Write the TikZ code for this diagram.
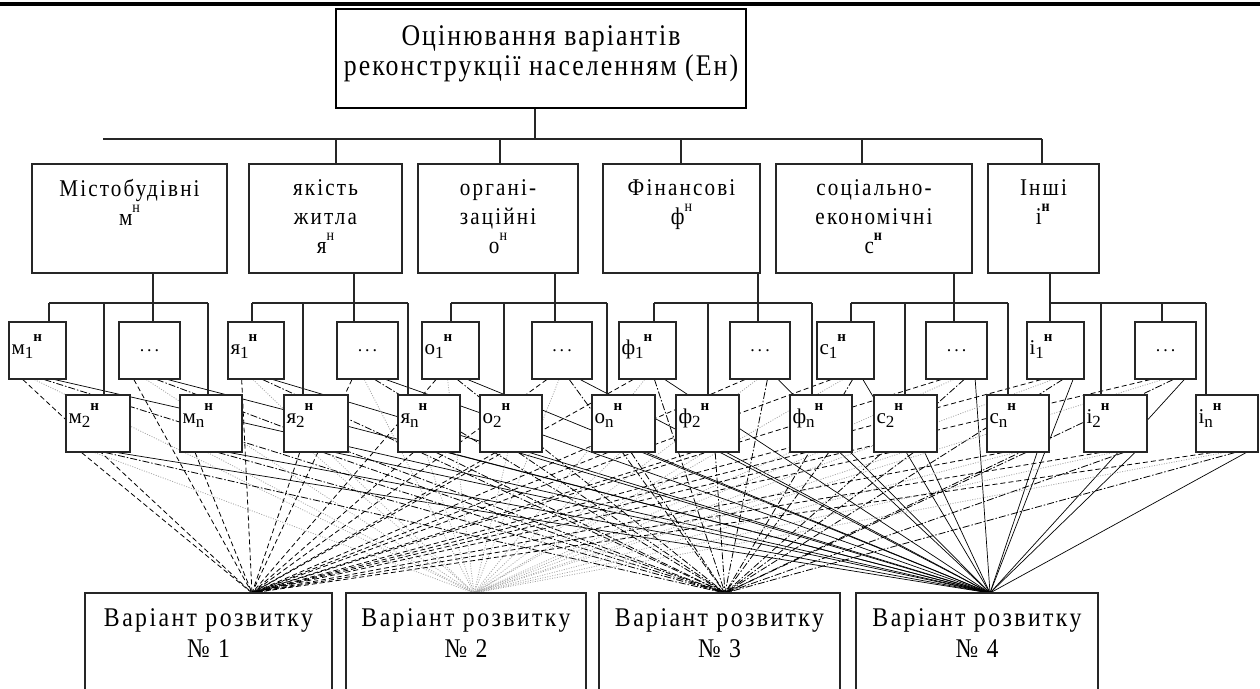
\documentclass[tikz,border=0pt]{standalone}
\usepackage{fontspec}
\setmainfont{Liberation Serif}
\newfontfamily\lsf[LetterSpace=9,FakeStretch=0.88]{Liberation Serif}
\newfontfamily\lsftop[LetterSpace=7,FakeStretch=0.86]{Liberation Serif}
\usetikzlibrary{fit,calc}
\pgfdeclarelayer{bg}
\pgfsetlayers{bg,main}
\newcommand\ftop{\lsftop\fontsize{30}{30}\selectfont}
\newcommand\fcat{\lsf\fontsize{24}{29}\selectfont}
\newcommand\fvar{\lsf\fontsize{27}{31}\selectfont}
\newcommand\fsm{\fontsize{21}{21}\selectfont}
\newcommand\lab[3]{#1\raisebox{-0.22em}{\fontsize{17}{17}\selectfont #2}\raisebox{0.6em}{\fontsize{15}{15}\selectfont\bfseries #3}}
\newcommand\csup[1]{\raisebox{0.55em}{\fontsize{16}{16}\selectfont #1}}
\tikzset{
  bx/.style={draw=black!85, line width=1.3pt, fill=white, inner sep=0pt},
  topbx/.style={draw=black, line width=2.8pt, fill=white, inner sep=0pt},
  hl/.style={line width=1.2pt, black!85},
  txt/.style={inner sep=0pt, align=center},
  smtxt/.style={inner sep=0pt, anchor=base west, font=\fsm},
  va/.style={line width=0.8pt, dash pattern=on 5pt off 3pt},
  vb/.style={line width=0.8pt, gray!70, dash pattern=on 1pt off 1.5pt},
  vc/.style={line width=0.8pt, dash pattern=on 7pt off 2pt on 1.5pt off 2pt},
  vd/.style={line width=0.7pt},
}
\newcommand\mkbox[5]{\node[bx, fit={(#2,#3) (#4,#5)}] (#1) {};}
\begin{document}
\begin{tikzpicture}[x=1pt,y=-1pt]
\useasboundingbox (0,0) rectangle (1260,688);
% top rule
\fill (0,1.5) rectangle (1260,6);
% top box
\node[topbx, fit={(336,9) (746,108)}] (top) {};
\node[txt, anchor=north, font=\ftop] (toptxt) at ([yshift=-18pt]top.north) {Оцінювання варіантів\\реконструкції населенням (Ен)};
% category boxes
\mkbox{catm}{32}{164}{227}{273}
\mkbox{caty}{249}{164}{402}{273}
\mkbox{cato}{418}{164}{578}{273}
\mkbox{catf}{603}{164}{760}{273}
\mkbox{catc}{776}{164}{972}{273}
\mkbox{cati}{988}{164}{1099}{273}
\node[txt, anchor=north, font=\fcat] (catmt) at ([yshift=-16pt]catm.north) {Містобудівні\\м\csup{н}};
\node[txt, anchor=north, font=\fcat] (catyt) at ([yshift=-16pt]caty.north) {якість\\житла\\я\csup{н}};
\node[txt, anchor=north, font=\fcat] (catot) at ([yshift=-16pt]cato.north) {органі-\\заційні\\о\csup{н}};
\node[txt, anchor=north, font=\fcat] (catft) at ([yshift=-16pt]catf.north) {Фінансові\\ф\csup{н}};
\node[txt, anchor=north, font=\fcat] (catct) at ([yshift=-16pt]catc.north) {соціально-\\економічні\\с\csup{\textbf{н}}};
\node[txt, anchor=north, font=\fcat] (catit) at ([yshift=-16pt]cati.north) {Інші\\і\csup{\textbf{н}}};
% small boxes row 1
\mkbox{sm1}{9}{322}{66}{379}
\mkbox{smd}{119}{322}{180}{379}
\mkbox{sy1}{228}{322}{284}{379}
\mkbox{syd}{337}{322}{398}{379}
\mkbox{so1}{422}{322}{479}{379}
\mkbox{sod}{532}{322}{592}{379}
\mkbox{sf1}{619}{322}{676}{379}
\mkbox{sfd}{730}{322}{790}{379}
\mkbox{sc1}{817}{322}{874}{379}
\mkbox{scd}{926}{322}{987}{379}
\mkbox{si1}{1027}{322}{1084}{379}
\mkbox{sid}{1135}{322}{1196}{379}
% small boxes row 2
\mkbox{sm2}{66}{395}{130}{452}
\mkbox{smn}{180}{395}{242}{452}
\mkbox{sy2}{284}{395}{348}{452}
\mkbox{syn}{398}{395}{460}{452}
\mkbox{so2}{480}{395}{542}{452}
\mkbox{son}{592}{395}{655}{452}
\mkbox{sf2}{676}{395}{739}{452}
\mkbox{sfn}{790}{395}{852}{452}
\mkbox{sc2}{874}{395}{937}{452}
\mkbox{scn}{987}{395}{1049}{452}
\mkbox{si2}{1084}{395}{1147}{452}
\mkbox{sin}{1196}{395}{1258}{452}
% small box texts
\node[smtxt] (sm1t) at ([xshift=3pt,yshift=-33pt]sm1.north west) {\lab{м}{1}{н}};
\node[smtxt] (sy1t) at ([xshift=3pt,yshift=-33pt]sy1.north west) {\lab{я}{1}{н}};
\node[smtxt] (so1t) at ([xshift=3pt,yshift=-33pt]so1.north west) {\lab{о}{1}{н}};
\node[smtxt] (sf1t) at ([xshift=3pt,yshift=-33pt]sf1.north west) {\lab{ф}{1}{н}};
\node[smtxt] (sc1t) at ([xshift=3pt,yshift=-33pt]sc1.north west) {\lab{с}{1}{н}};
\node[smtxt] (si1t) at ([xshift=3pt,yshift=-33pt]si1.north west) {\lab{і}{1}{н}};
\node[smtxt] (sm2t) at ([xshift=3pt,yshift=-29pt]sm2.north west) {\lab{м}{2}{н}};
\node[smtxt] (smnt) at ([xshift=3pt,yshift=-29pt]smn.north west) {\lab{м}{n}{н}};
\node[smtxt] (sy2t) at ([xshift=3pt,yshift=-29pt]sy2.north west) {\lab{я}{2}{н}};
\node[smtxt] (synt) at ([xshift=3pt,yshift=-29pt]syn.north west) {\lab{я}{n}{н}};
\node[smtxt] (so2t) at ([xshift=3pt,yshift=-29pt]so2.north west) {\lab{о}{2}{н}};
\node[smtxt] (sont) at ([xshift=3pt,yshift=-29pt]son.north west) {\lab{о}{n}{н}};
\node[smtxt] (sf2t) at ([xshift=3pt,yshift=-29pt]sf2.north west) {\lab{ф}{2}{н}};
\node[smtxt] (sfnt) at ([xshift=3pt,yshift=-29pt]sfn.north west) {\lab{ф}{n}{н}};
\node[smtxt] (sc2t) at ([xshift=3pt,yshift=-29pt]sc2.north west) {\lab{с}{2}{н}};
\node[smtxt] (scnt) at ([xshift=3pt,yshift=-29pt]scn.north west) {\lab{с}{n}{н}};
\node[smtxt] (si2t) at ([xshift=3pt,yshift=-29pt]si2.north west) {\lab{і}{2}{н}};
\node[smtxt] (sint) at ([xshift=3pt,yshift=-29pt]sin.north west) {\lab{і}{n}{н}};
\foreach \d in {smd,syd,sod,sfd,scd,sid}
  \node[inner sep=0pt, font=\fontsize{18}{18}\selectfont] (\d t) at (\d.center) {.\,.\,.};
% variant boxes
\mkbox{var1}{85}{593}{332}{694}
\mkbox{var2}{346}{593}{586}{694}
\mkbox{var3}{599}{593}{840}{694}
\mkbox{var4}{856}{593}{1098}{694}
\node[txt, anchor=north, font=\fvar] (var1t) at ([yshift=-16pt]var1.north) {Варіант розвитку\\№ 1};
\node[txt, anchor=north, font=\fvar] (var2t) at ([yshift=-16pt]var2.north) {Варіант розвитку\\№ 2};
\node[txt, anchor=north, font=\fvar] (var3t) at ([yshift=-16pt]var3.north) {Варіант розвитку\\№ 3};
\node[txt, anchor=north, font=\fvar] (var4t) at ([yshift=-16pt]var4.north) {Варіант розвитку\\№ 4};
\coordinate (t1) at (252,593);
\coordinate (t2) at (474,593);
\coordinate (t3) at (725,593);
\coordinate (t4) at (990,593);
% hierarchy connectors
\coordinate (busL) at (103,139);
\coordinate (busR) at (1042,139);
\draw[hl] (busL) -- (busR);
\draw[hl] ([xshift=-6pt]top.south) -- ([xshift=-6pt]top.south |- busL);
\foreach \n/\x in {caty/336, cato/500, catf/681, catc/862, cati/1042}
  \draw[hl] (\x,0 |- busL) -- (\x,0 |- \n.north);
\newcommand\grp[9]{%
  \draw[hl] (#2,0 |- #1.south) -- (#2,0 |- #3.north);
  \draw[hl] (#4,303) -- (#8,303);
  \draw[hl] (#4,303) -- (#4,0 |- #5.north);
  \draw[hl] (#6,303) -- (#6,0 |- #7.north);
  \draw[hl] (#8,303) -- (#8,0 |- #9.north);
}
\grp{catm}{153}{smd}{49}{sm1}{104}{sm2}{208}{smn}
\grp{caty}{354}{syd}{252}{sy1}{303}{sy2}{408}{syn}
\grp{cato}{555}{sod}{451}{so1}{504}{so2}{607}{son}
\grp{catf}{758}{sfd}{654}{sf1}{708}{sf2}{812}{sfn}
\grp{catc}{954}{scd}{851}{sc1}{905}{sc2}{1008}{scn}
\draw[hl] (1050,0 |- cati.south) -- (1050,0 |- si1.north);
\draw[hl] (1050,303) -- (1206,303);
\draw[hl] (1101,303) -- (1101,0 |- si2.north);
\draw[hl] (1162,303) -- (1162,0 |- sid.north);
\draw[hl] (1206,303) -- (1206,0 |- sin.north);
% evaluation connectors
\begin{pgfonlayer}{bg}
\foreach \s in {sm1,smd,sm2,smn,sy1,syd,sy2,syn,so1,sod,so2,son,sf1,sfd,sf2,sfn,sc1,scd,sc2,scn,si1,sid,si2,sin}{
  \draw[va] ($(\s.south west)!0.25!(\s.south east)$) -- (t1);
  \draw[vb] ($(\s.south west)!0.45!(\s.south east)$) -- (t2);
  \draw[vc] ($(\s.south west)!0.62!(\s.south east)$) -- (t3);
  \draw[vd] ($(\s.south west)!0.8!(\s.south east)$) -- (t4);
}
\end{pgfonlayer}
\end{tikzpicture}
\end{document}
